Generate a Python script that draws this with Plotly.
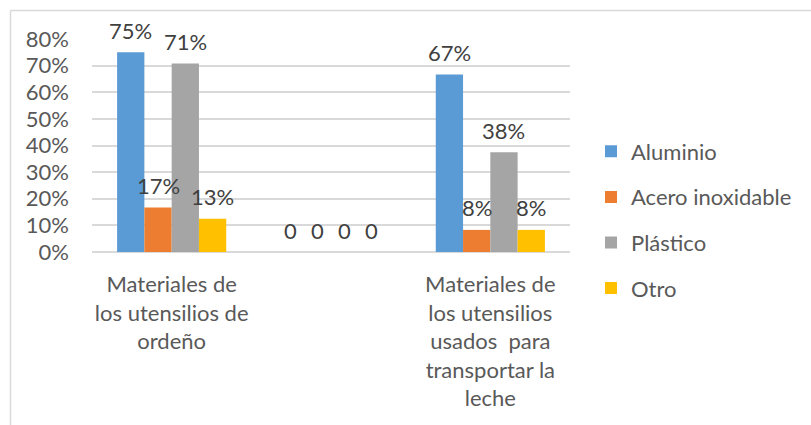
import plotly.graph_objects as go

categories = ["Materiales de los utensilios de ordeño", " ",
              "Materiales de los utensilios usados  para transportar la leche"]
tick_labels = ["Materiales de<br>los utensilios de<br>ordeño", "",
               "Materiales de<br>los utensilios<br>usados  para<br>transportar la<br>leche"]
series_names = ["Aluminio", "Acero inoxidable", "Plástico", "Otro"]
aluminio = [75.0, 0, 66.7]
acero = [16.7, 0, 8.3]
plastico = [70.8, 0, 37.5]
otro = [12.5, 0, 8.3]
aluminio_lbl = ["75%", "0", "67%"]
acero_lbl = ["17%", "0", "8%"]
plastico_lbl = ["71%", "0", "38%"]
otro_lbl = ["13%", "0", "8%"]
y_ticks = [0, 10, 20, 30, 40, 50, 60, 70, 80]
y_tick_text = ["0%", "10%", "20%", "30%", "40%", "50%", "60%", "70%", "80%"]

colors = ["#5B9BD5", "#ED7D31", "#A5A5A5", "#FFC000"]
values = [aluminio, acero, plastico, otro]
labels = [aluminio_lbl, acero_lbl, plastico_lbl, otro_lbl]

W, H = 811, 425
ML, MR, MT, MB = 92, 241, 39, 173
plot_w = W - ML - MR
plot_h = H - MT - MB
bargap = 0.315
FONT = "Lato"
FS = 22

fig = go.Figure()
for i, (name, vals) in enumerate(zip(series_names, values)):
    fig.add_trace(go.Bar(
        x=categories, y=vals, name=name,
        marker=dict(color=colors[i], line=dict(width=0)),
        legendgroup=name,
        hoverinfo="skip",
    ))

# data labels as annotations above each bar
barw = plot_w / len(categories) * (1 - bargap) / len(series_names)
for i, lbls in enumerate(labels):
    for j, cat in enumerate(categories):
        fig.add_annotation(
            x=cat, y=values[i][j], text=lbls[j], showarrow=False,
            xshift=(i - 1.5) * barw, yshift=22,
            font=dict(family=FONT, size=FS, color="#404040"),
        )

def px_x(px):
    return (px - ML) / plot_w

def px_y(py):
    return (H - MB - py) / plot_h

border = dict(color="#D9D9D9", width=1.5)
fig.add_shape(type="line", xref="paper", yref="paper",
              x0=px_x(10.5), x1=px_x(811), y0=px_y(10.5), y1=px_y(10.5), line=border)
fig.add_shape(type="line", xref="paper", yref="paper",
              x0=px_x(10.5), x1=px_x(10.5), y0=px_y(10.5), y1=px_y(425), line=border)

fig.update_layout(
    width=W, height=H,
    margin=dict(l=ML, r=MR, t=MT, b=MB),
    paper_bgcolor="white", plot_bgcolor="white",
    barmode="group", bargap=bargap, bargroupgap=0,
    font=dict(family=FONT, size=FS, color="#595959"),
    showlegend=True,
    legend=dict(
        x=px_x(591), xanchor="left", y=px_y(220), yanchor="middle",
        tracegroupgap=14, traceorder="grouped",
        font=dict(family=FONT, size=FS, color="#595959"),
        bgcolor="rgba(0,0,0,0)",
    ),
)
fig.update_xaxes(
    tickmode="array", tickvals=categories, ticktext=tick_labels,
    showgrid=False, showline=False, ticks="", ticklabelstandoff=17,
    tickfont=dict(family=FONT, size=FS, color="#595959"),
)
fig.update_yaxes(
    range=[0, 80], tickmode="array", tickvals=y_ticks, ticktext=y_tick_text,
    showgrid=True, gridcolor="#D9D9D9", gridwidth=1.5,
    zeroline=True, zerolinecolor="#D9D9D9", zerolinewidth=1.5,
    showline=False, ticks="", ticklabelstandoff=22,
    tickfont=dict(family=FONT, size=FS, color="#595959"),
)

fig.write_html("out.html", config={"displayModeBar": False},
               post_script="document.body.style.margin='0';")
